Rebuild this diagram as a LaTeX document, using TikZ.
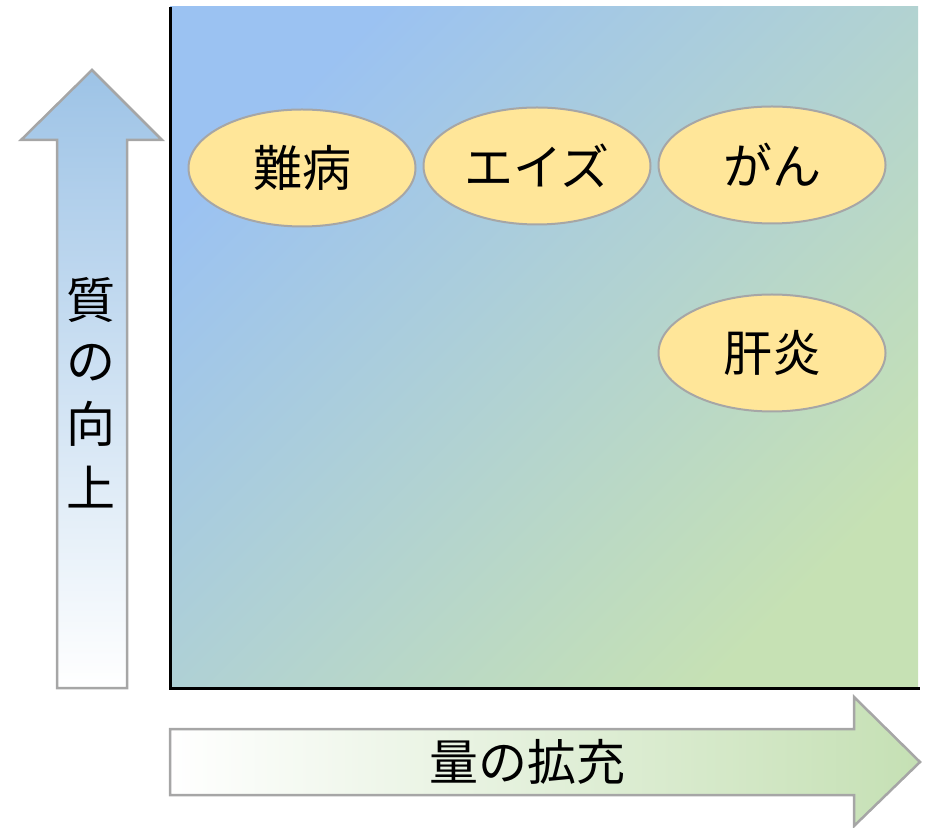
\documentclass[tikz,border=0pt]{standalone}
\usepackage{fontspec}
\setmainfont{Noto Sans CJK JP}
\usetikzlibrary{shapes.geometric}
\definecolor{plotA}{RGB}{155,194,242}
\definecolor{plotB}{RGB}{198,225,180}
\definecolor{upA}{RGB}{157,195,230}
\definecolor{rightB}{RGB}{197,224,180}
\definecolor{ellfill}{RGB}{255,230,153}
\definecolor{edgegray}{RGB}{166,166,166}
\tikzset{
  bigtext/.style={font=\fontsize{49pt}{49pt}\selectfont, inner sep=0pt, text=black},
  disease/.style={ellipse, draw=edgegray, line width=2pt, fill=ellfill,
    minimum width=227pt, minimum height=117pt, inner sep=0pt,
    font=\fontsize{49pt}{49pt}\selectfont},
  arrowshape/.style={draw=edgegray, line width=2.5pt, line join=miter},
  axisline/.style={draw=black, line width=3pt}
}
\begin{document}
\begin{tikzpicture}[x=1pt,y=1pt]
\useasboundingbox (0,0) rectangle (928,827);
% plot area
\shade[top color=plotA, bottom color=plotB, shading angle=45] (170,139) rectangle (918,820);
\coordinate (o) at (170,139);
\coordinate (ytop) at (170,820);
\coordinate (xend) at (920,139);
\draw[axisline] (ytop) -- (o) -- (xend);
% up arrow
\draw[arrowshape, top color=upA, bottom color=white]
  (57,139) -- (57,687) -- (21,687) -- (92,757) -- (162,687) -- (127,687) -- (127,139) -- cycle;
% right arrow
\draw[arrowshape, left color=white, right color=rightB]
  (170,98) -- (854,98) -- (854,130) -- (920,65) -- (854,1) -- (854,32) -- (170,32) -- cycle;
% vertical label
\node[bigtext] (q1) at (91,527) {質};
\node[bigtext] (q2) at (91,464) {の};
\node[bigtext] (q3) at (91,403) {向};
\node[bigtext] (q4) at (91,340) {上};
% horizontal label
\node[bigtext] (h) at (527,65) {量の拡充};
% diseases
\node[disease] (nanbyo) at (302,659) {難病};
\node[disease] (aids) at (537,661) {エイズ};
\node[disease] (gan) at (772,662) {がん};
\node[disease] (kanen) at (772,474) {肝炎};
\end{tikzpicture}
\end{document}
